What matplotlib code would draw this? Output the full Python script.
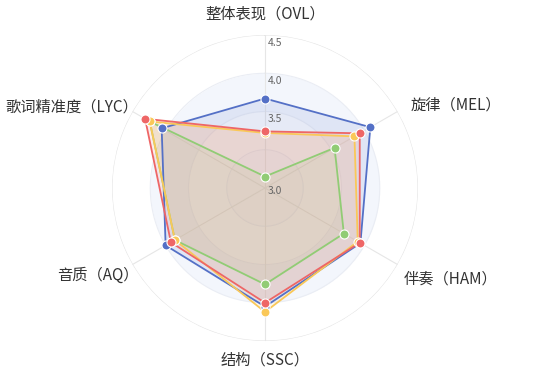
import numpy as np
import matplotlib
matplotlib.use("Agg")
import matplotlib.pyplot as plt
from matplotlib.transforms import offset_copy

plt.rcParams['font.family'] = ['Noto Sans CJK SC', 'DejaVu Sans']

# axes (clockwise from top)
categories = ['整体表现（OVL）', '旋律（MEL）', '伴奏（HAM）',
              '结构（SSC）', '音质（AQ）', '歌词精准度（LYC）']

# series values
blue   = [3.67, 4.09, 3.94, 4.05, 4.00, 4.06]
green  = [2.65, 3.55, 3.69, 3.76, 3.86, 4.24]
yellow = [3.22, 3.85, 3.90, 4.12, 3.86, 4.24]
red    = [3.24, 3.93, 3.93, 4.00, 3.92, 4.31]

tick_labels = ['3.0', '3.5', '4.0', '4.5']
levels = [2.5, 3.0, 3.5, 4.0, 4.5]

series = [(blue, '#5470c6'), (green, '#91cc75'), (yellow, '#fac858'), (red, '#ee6666')]

# small nudges (px) for the indicator names
name_shift = [(0, -3), (0, -1), (-7, -7), (0, 4), (19, -3), (19, -3)]

r_min, r_max = levels[0], levels[-1]

fig = plt.figure(figsize=(5.4, 3.72), dpi=100)
ax = fig.add_axes([0.2074, 0.0833, 0.5667, 0.8226], projection='polar')
ax.set_theta_offset(np.pi / 2)
ax.set_theta_direction(-1)
ax.set_ylim(r_min, r_max)
ax.grid(False)
ax.set_xticks([])
ax.set_yticks([])
ax.spines['polar'].set_visible(False)
ax.patch.set_alpha(0)

n = len(categories)
angles = np.linspace(0, 2 * np.pi, n, endpoint=False)
circ = np.linspace(0, 2 * np.pi, 361)

# split areas
band_colors = ['#f6f8fc', '#fbfbfd', '#f3f6fc', '#ffffff']
for lo, hi, c in zip(levels[:-1], levels[1:], band_colors):
    ax.fill_between(circ, lo, hi, color=c, lw=0, zorder=0)

# split lines
for lv in levels[1:]:
    col = '#e4e4e4' if lv == r_max else '#eaedf4'
    ax.plot(circ, [lv] * len(circ), color=col, lw=0.8, zorder=1)
for a in angles:
    ax.plot([a, a], [r_min, r_max], color='#e6e6e6', lw=0.8, zorder=1)

# series
for vals, col in series:
    t = np.append(angles, angles[0])
    v = vals + vals[:1]
    ax.fill(t, v, color=col, alpha=0.12, lw=0, zorder=2)
    ax.plot(t, v, color=col, lw=1.3, zorder=3)
    ax.plot(angles, vals, 'o', color=col, ms=6.5, mec='white', mew=0.8, zorder=4)

# indicator names
name_r = r_max + 15 / 76.5
for a, name, (dx, dy) in zip(angles, categories, name_shift):
    s = np.sin(a)
    if abs(s) < 1e-6:
        ha = 'center'
        va = 'bottom' if np.cos(a) > 0 else 'top'
    else:
        ha = 'left' if s > 0 else 'right'
        va = 'center'
    tt = offset_copy(ax.transData, fig=fig, x=dx, y=dy, units='dots')
    ax.text(a, name_r, name, ha=ha, va=va, fontsize=11, fontweight='medium',
            color='#333333', clip_on=False, transform=tt)

# radial tick labels
tr = offset_copy(ax.transData, fig=fig, x=2, y=-2, units='points')
ax.text(0, r_min, tick_labels[0], transform=offset_copy(ax.transData, fig=fig, x=2, y=-2, units='points'),
        ha='left', va='center', fontsize=7.5, color='#666666')
for lab, lv in zip(tick_labels[1:], levels[2:]):
    ax.text(0, lv, lab, transform=tr, ha='left', va='top', fontsize=7.5, color='#666666')

fig.savefig('out.png', dpi=100)
